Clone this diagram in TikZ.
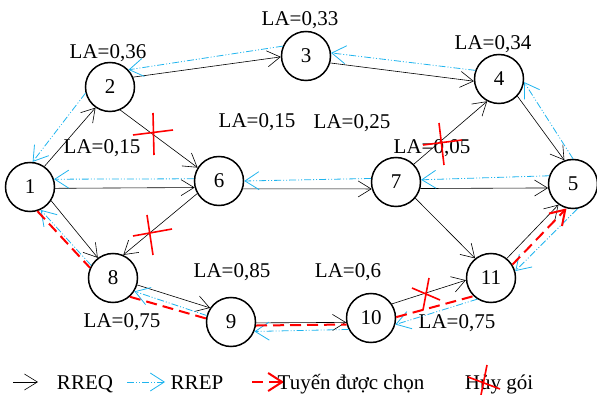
\documentclass[tikz,border=0pt]{standalone}
\usepackage{fontspec}
\setmainfont{Liberation Serif}
\usetikzlibrary{arrows.meta}
\definecolor{repblue}{HTML}{1FB4EE}
\definecolor{pathred}{HTML}{FF0000}

\begin{document}
\begin{tikzpicture}[x=1pt, y=-1pt,
  every node/.style={font=\fontsize{21}{25}\selectfont},
  router/.style={circle, draw, line width=1.5pt, minimum size=49pt, inner sep=0pt},
  rreq/.style={line width=0.6pt, -{Straight Barb[length=13pt,width=16pt]}},
  rrep/.style={repblue, line width=0.8pt,
    dash pattern=on 7pt off 2pt on 1pt off 2pt on 1pt off 2pt,
    -{Straight Barb[length=14pt,width=18pt]}},
  chosen/.style={pathred, line width=2pt, dash pattern=on 11pt off 6pt},
  redtip/.style={-{Straight Barb[length=14pt,width=18pt]}},
  drop/.style={pathred, line width=1.6pt}]
  \useasboundingbox (0,0) rectangle (597,395);

  % routers
  \node[router] (n1) at (30,187) {1};
  \node[router] (n2) at (110,87) {2};
  \node[router] (n3) at (306,56) {3};
  \node[router] (n4) at (499,79) {4};
  \node[router] (n5) at (573,184) {5};
  \node[router] (n6) at (219,181) {6};
  \node[router] (n7) at (396,182) {7};
  \node[router] (n8) at (113,278) {8};
  \node[router] (n9) at (231,322) {9};
  \node[router] (n10) at (371,318) {10};
  \node[router] (n11) at (491,278) {11};

  % link values
  \node (la2) at (108,53) {LA=0,36};
  \node (la3) at (300,20) {LA=0,33};
  \node (la4) at (493,44) {LA=0,34};
  \node (la12) at (102,148) {LA=0,15};
  \node (la6) at (257,122) {LA=0,15};
  \node (la7) at (352,123) {LA=0,25};
  \node (la74) at (432,148) {LA=0,05};
  \node (la9) at (232,272) {LA=0,85};
  \node (la10) at (348,272) {LA=0,6};
  \node (la8) at (122,322) {LA=0,75};
  \node (la11) at (457,323) {LA=0,75};

  % RREQ
  \draw[rreq] (n1.55) -- (n2.235);
  \draw[rreq] (n2.23) -- (n3.182);
  \draw[rreq] (n3.-16) -- (n4.185);
  \draw[rreq] (n4.-43) -- (n5.110);
  \draw[rreq] (n2.-66) -- (n6.148);
  \draw[rreq] (n1.-3) -- (n6.195);
  \draw[rreq] (n6.-18) -- (n7.196);
  \draw[rreq] (n7.-15) -- (n5.189);
  \draw[rreq] (n7.45) -- (n4.242);
  \draw[rreq] (n7.-40) -- (n11.129);
  \draw[rreq] (n6.210) -- (n8.66);
  \draw[rreq] (n1.-33) -- (n8.127);
  \draw[rreq] (n8.-16) -- (n9.146);
  \draw[rreq] (n9.-2) -- (n10.190);
  \draw[rreq] (n10.34) -- (n11.185);
  \draw[rreq] (n11.51) -- (n5.235);

  % RREP
  \draw[rrep] (n2.194) -- (n1.84);
  \draw[rrep] (n3.157) -- (n2.43);
  \draw[rrep] (n4.160) -- (n3.7);
  \draw[rrep] (n5.90) -- (n4.-7);
  \draw[rrep] (n6.175) -- (n1.18);
  \draw[rrep] (n7.172) -- (n6.0);
  \draw[rrep] (n5.161) -- (n7.5);
  \draw[rrep] (n5.-80) -- (n11.16);
  \draw[rrep] (n11.237) -- (n10.-15);
  \draw[rrep] (n10.207) -- (n9.-22);
  \draw[rrep] (n9.165) -- (n8.-32);
  \draw[rrep] (n8.150) -- (n1.-65);

  % chosen route 1-8-9-10-11-5
  \draw[chosen, redtip] (n1.-73) -- (n8.156) (n8.-48) -- (n9.172)
    (n9.-8) -- (n10.195) (n10.2) -- (n11.226) (n11.32) -- (n5.255);

  % dropped packets
  \draw[drop] (133,135) -- (173,130) (153,113) -- (154,155);
  \draw[drop] (133,236) -- (172,229) (147,215) -- (153,255);
  \draw[drop] (423,145) -- (462,140) (439,123) -- (444,165);
  \draw[drop] (412,288) -- (440,300) (429,278) -- (423,310);

  % legend
  \coordinate (kq1) at (13,382);
  \coordinate (kq2) at (38,382);
  \draw[rreq] (kq1) -- (kq2);
  \node[anchor=base] (kreq) at (85,389) {RREQ};
  \coordinate (kp1) at (127,382);
  \coordinate (kp2) at (165,382);
  \draw[rrep] (kp1) -- (kp2);
  \node[anchor=base] (krep) at (197,389) {RREP};
  \coordinate (kc1) at (252,382);
  \coordinate (kc2) at (284,382);
  \draw[chosen, redtip] (kc1) -- (kc2);
  \node[anchor=base] (kchosen) at (351,389) {Tuyến được chọn};
  \node[anchor=base] (kdrop) at (499,389) {Hủy gói};
  \draw[drop] (468,377) -- (500,389) (487,365) -- (481,395);
\end{tikzpicture}
\end{document}
